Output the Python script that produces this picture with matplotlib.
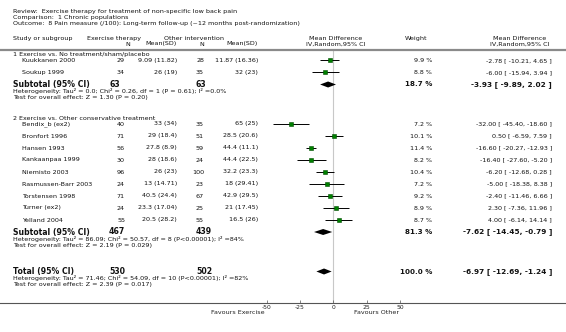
import matplotlib
matplotlib.use('Agg')
import matplotlib.pyplot as plt
from matplotlib.lines import Line2D
from matplotlib.transforms import Affine2D

W, H = 566, 332

review = 'Exercise therapy for treatment of non-specific low back pain'
comparison = '1 Chronic populations'
outcome = '8 Pain measure (/100): Long-term follow-up (~12 months post-randomization)'

group_titles = ['1 Exercise vs. No treatment/sham/placebo',
                '2 Exercise vs. Other conservative treatment']

# group 1
g1_studies = ['Kuukkanen 2000', 'Soukup 1999']
g1_n_ex = [29, 34]
g1_mean_ex = [9.09, 26]
g1_sd_ex = [11.82, 19]
g1_n_ot = [28, 35]
g1_mean_ot = [11.87, 32]
g1_sd_ot = [16.36, 23]
g1_weight = [9.9, 8.8]
g1_md = [-2.78, -6.00]
g1_lo = [-10.21, -15.94]
g1_hi = [4.65, 3.94]

# group 2
g2_studies = ['Bendix_b (ex2)', 'Bronfort 1996', 'Hansen 1993', 'Kankaanpaa 1999',
              'Niemisto 2003', 'Rasmussen-Barr 2003', 'Torstensen 1998',
              'Turner (ex2)', 'Yelland 2004']
g2_n_ex = [40, 71, 56, 30, 96, 24, 71, 24, 55]
g2_mean_ex = [33, 29, 27.8, 28, 26, 13, 40.5, 23.3, 20.5]
g2_sd_ex = [34, 18.4, 8.9, 18.6, 23, 14.71, 24.4, 17.04, 28.2]
g2_n_ot = [35, 51, 59, 24, 100, 23, 67, 25, 55]
g2_mean_ot = [65, 28.5, 44.4, 44.4, 32.2, 18, 42.9, 21, 16.5]
g2_sd_ot = [25, 20.6, 11.1, 22.5, 23.3, 29.41, 29.5, 17.45, 26]
g2_weight = [7.2, 10.1, 11.4, 8.2, 10.4, 7.2, 9.2, 8.9, 8.7]
g2_md = [-32.00, 0.50, -16.60, -16.40, -6.20, -5.00, -2.40, 2.30, 4.00]
g2_lo = [-45.40, -6.59, -20.27, -27.60, -12.68, -18.38, -11.46, -7.36, -6.14]
g2_hi = [-18.60, 7.59, -12.93, -5.20, 0.28, 8.38, 6.66, 11.96, 14.14]

# subtotals
sub_n_ex = [63, 467]
sub_n_ot = [63, 439]
sub_weight = [18.7, 81.3]
sub_md = [-3.93, -7.62]
sub_lo = [-9.89, -14.45]
sub_hi = [2.02, -0.79]
sub_het = ['Heterogeneity: Tau\u00b2 = 0.0; Chi\u00b2 = 0.26, df = 1 (P = 0.61); I\u00b2 =0.0%',
           'Heterogeneity: Tau\u00b2 = 86.09; Chi\u00b2 = 50.57, df = 8 (P<0.00001); I\u00b2 =84%']
sub_test = ['Test for overall effect: Z = 1.30 (P = 0.20)',
            'Test for overall effect: Z = 2.19 (P = 0.029)']

# total
total_n_ex, total_n_ot = 530, 502
total_weight = 100.0
total_md, total_lo, total_hi = -6.97, -12.69, -1.24
total_het = 'Heterogeneity: Tau\u00b2 = 71.46; Chi\u00b2 = 54.09, df = 10 (P<0.00001); I\u00b2 =82%'
total_test = 'Test for overall effect: Z = 2.39 (P = 0.017)'

ticks = [-50, -25, 0, 25, 50]

plt.rcParams['font.family'] = ['DejaVu Sans']
plt.rcParams['axes.unicode_minus'] = False

TXT = '#111111'
FS = 4.55
FSB = 5.6

fig = plt.figure(figsize=(W / 100, H / 100), dpi=100)
fig.patch.set_facecolor('white')
# pixel coordinates, y measured from the top
px = Affine2D().scale(1 / W, -1 / H).translate(0, 1) + fig.transFigure


def txt(x, y, s, size=FS, ha='left', bold=False, color=TXT):
    fig.text(x, y, s, transform=px, fontsize=size, ha=ha, va='center',
             fontweight='bold' if bold else 'normal', color=color)


# column positions (px)
X_TITLE, X_STUDY = 13, 22
X_N1, X_M1, X_N2, X_M2 = 125, 177, 204, 258
X_SUB_N1, X_SUB_N2 = 109, 196
X_W, X_CI = 432, 552
ZERO_X, SCALE = 333.3, 133.3 / 100
TOP, AXIS_Y = 50, 302.5

# header text
txt(X_TITLE, 11.5, 'Review:  ' + review)
txt(X_TITLE, 17, 'Comparison:  ' + comparison)
txt(X_TITLE, 23, 'Outcome:  ' + outcome)
txt(X_TITLE, 38.5, 'Study or subgroup')
txt(87, 38.5, 'Exercise therapy')
txt(164, 38.5, 'Other intervention')
txt(128, 44, 'N', ha='center')
txt(X_M1, 44, 'Mean(SD)', ha='right')
txt(202, 44, 'N', ha='center')
txt(X_M2, 44, 'Mean(SD)', ha='right')
txt(336, 38.5, 'Mean Difference', ha='center')
txt(336, 44, 'IV,Random,95% CI', ha='center')
txt(416, 38.5, 'Weight', ha='center')
txt(520, 38.5, 'Mean Difference', ha='center')
txt(520, 44, 'IV,Random,95% CI', ha='center')

fig.add_artist(Line2D([0, W], [TOP, TOP], transform=px, color='#8a8a8a', lw=1.6))
fig.add_artist(Line2D([0, W], [AXIS_Y, AXIS_Y], transform=px, color='#555555', lw=0.8))

# forest axes: x in mean-difference units, y in pixel rows
ax = fig.add_axes([(ZERO_X - 50 * SCALE) / W, (H - AXIS_Y) / H,
                   100 * SCALE / W, (AXIS_Y - TOP - 1) / H])
ax.set_xlim(-50, 50)
ax.set_ylim(AXIS_Y, TOP + 1)
ax.patch.set_alpha(0)
for sp in ax.spines.values():
    sp.set_visible(False)
ax.set_yticks([])
ax.set_xticks(ticks)
ax.set_xticklabels([str(t) for t in ticks])
ax.tick_params(axis='x', direction='in', length=2, width=0.5, color='#555555',
               labelsize=4.3, labelcolor='#222222', pad=1.5)
ax.axvline(0, color='#c8c8c8', lw=0.8, zorder=0)

txt(265, 313, 'Favours Exercise', ha='right', color='#222222')
txt(354, 313, 'Favours Other', color='#222222')


def fmt_msd(m, s):
    return f'{m:g} ({s:g})'


def study_row(y, name, nx, mx, sx, no, mo, so, w, md, lo, hi):
    txt(X_STUDY, y, name)
    txt(X_N1, y, str(nx), ha='right')
    txt(X_M1, y, fmt_msd(mx, sx), ha='right')
    txt(X_N2, y, str(no), ha='right')
    txt(X_M2, y, fmt_msd(mo, so), ha='right')
    txt(X_W, y, f'{w:.1f} %', ha='right')
    txt(X_CI, y, f'{md:.2f} [ {lo:.2f}, {hi:.2f} ]', ha='right')
    ax.plot([lo, hi], [y, y], color='black', lw=0.7, solid_capstyle='butt', clip_on=False)
    ax.plot([md], [y], marker='s', ms=1.3 + 0.13 * w, mfc='#008000', mec='#004d00',
            mew=0.4, clip_on=False)


def summary_row(y, label, nx, no, w, md, lo, hi):
    txt(X_TITLE, y, label, size=FSB, bold=True)
    txt(X_SUB_N1, y, str(nx), size=FSB, bold=True)
    txt(X_SUB_N2, y, str(no), size=FSB, bold=True)
    txt(X_W, y, f'{w:.1f} %', ha='right', size=FSB - 0.5, bold=True)
    txt(X_CI, y, f'{md:.2f} [ {lo:.2f}, {hi:.2f} ]', ha='right', size=FSB - 0.3, bold=True)
    ax.fill([lo, md, hi, md], [y, y - 3, y, y + 3], color='black', lw=0, clip_on=False)


groups = [
    (g1_studies, g1_n_ex, g1_mean_ex, g1_sd_ex, g1_n_ot, g1_mean_ot, g1_sd_ot,
     g1_weight, g1_md, g1_lo, g1_hi),
    (g2_studies, g2_n_ex, g2_mean_ex, g2_sd_ex, g2_n_ot, g2_mean_ot, g2_sd_ot,
     g2_weight, g2_md, g2_lo, g2_hi),
]

y = 54.5
for gi, g in enumerate(groups):
    txt(X_TITLE, y, group_titles[gi])
    y += 6
    for row in zip(*g):
        study_row(y, *row)
        y += 12
    summary_row(y, 'Subtotal (95% CI)', sub_n_ex[gi], sub_n_ot[gi], sub_weight[gi],
                sub_md[gi], sub_lo[gi], sub_hi[gi])
    txt(X_TITLE, y + 7, sub_het[gi])
    txt(X_TITLE, y + 13.5, sub_test[gi])
    y += 33.5

y = 271.5
summary_row(y, 'Total (95% CI)', total_n_ex, total_n_ot, total_weight,
            total_md, total_lo, total_hi)
txt(X_TITLE, y + 6.5, total_het)
txt(X_TITLE, y + 13, total_test)

fig.savefig('out.png', dpi=100)
